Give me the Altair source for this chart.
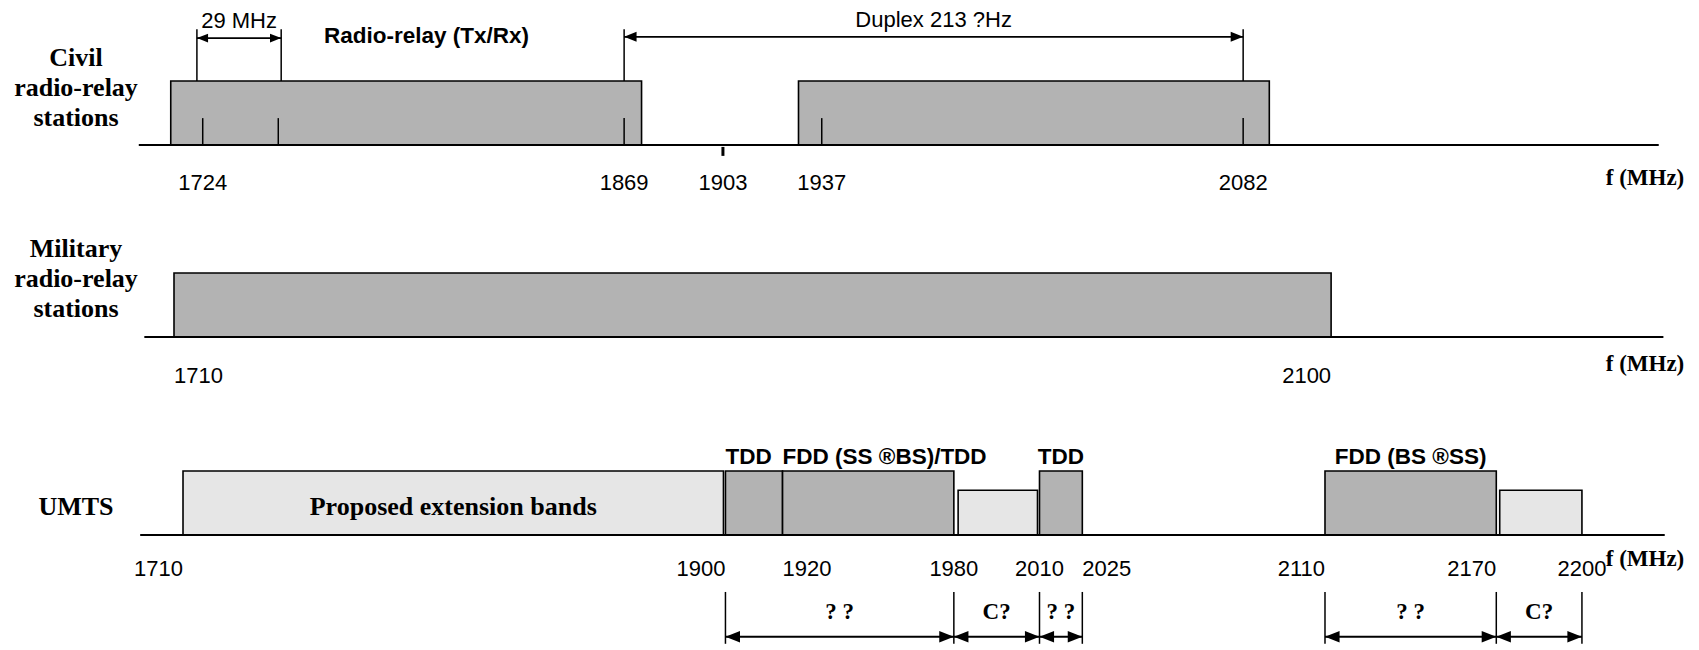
import altair as alt
import pandas as pd

SANS = "Liberation Sans"
SERIF = "Liberation Serif"
W = 1683
UNIT = 64  # pixels per band-height unit

# ---------------- Civil radio-relay stations ----------------
civil_axis = [1702, 2225]
civil_band_lo = [1713, 1929]
civil_band_hi = [1875, 2091]
civil_inner_ticks = [1724, 1750, 1869, 1937, 2082]
civil_tick_labels = [1724, 1869, 1903, 1937, 2082]
civil_marker = [1903]
civil_span = [1722, 1751]          # 29 MHz
civil_span_text = "29 MHz"
civil_duplex = [1869, 2082]
civil_duplex_text = "Duplex 213 ?Hz"
civil_band_text = "Radio-relay (Tx/Rx)"
civil_band_text_f = [1801]
civil_title = ["Civil", "radio-relay", "stations"]
civil_domain = [1657.0, 2236.1]

# ---------------- Military radio-relay stations ----------------
mil_axis = [1700, 2212]
mil_band = [1710, 2100]
mil_title = ["Military", "radio-relay", "stations"]
mil_domain = [1654.05, 2221.3]

# ---------------- UMTS ----------------
umts_axis = [1695, 2229]
umts_lo = [1710, 1900, 1920, 1981.5, 2010, 2110, 2171.2]
umts_hi = [1899.3, 1920, 1980, 2009.3, 2025, 2170, 2200]
umts_type = ["ext", "core", "core", "gap", "core", "core", "gap"]
umts_ext_text = "Proposed extension bands"
umts_names_left = ["TDD", "FDD (SS \u00aeBS)/TDD"]
umts_names_left_f = [1900, 1920]
umts_names_mid = ["TDD", "FDD (BS \u00aeSS)"]
umts_names_mid_lo = [2010, 2110]
umts_names_mid_hi = [2025, 2170]
umts_labels_right = [1710, 1900, 2110, 2170]
umts_labels_left = [1920, 2025]
umts_labels_center = [1980, 2010, 2200]
umts_dim_lo = [1900, 1980, 2010, 2110, 2170]
umts_dim_hi = [1980, 2010, 2025, 2170, 2200]
umts_dim_text = ["? ?", "C?", "? ?", "? ?", "C?"]
umts_title = ["UMTS"]
umts_domain = [1648.7, 2238.2]

axis_unit = "f (MHz)"

LEVEL = {"ext": 1.0, "core": 1.0, "gap": 0.7}
FILL_DOMAIN = ["ext", "core", "gap"]
FILL_RANGE = ["#e6e6e6", "#b3b3b3", "#e6e6e6"]

LEFT_HEAD = "M0,0L1,-0.4L1,0.4Z"
RIGHT_HEAD = "M0,0L-1,-0.4L-1,0.4Z"

NUM_SIZE = 22
SANS_BOLD_SIZE = 22.5
SERIF_TITLE = 26


def panel(h, base, dom, layers):
    xs = alt.Scale(domain=dom)
    ys = alt.Scale(domain=[-(h - base) / UNIT, base / UNIT])
    built = [fn(xs, ys) for fn in layers]
    return alt.layer(*built).properties(width=W, height=h)


def baseline(lo_hi):
    df = pd.DataFrame({"a": [lo_hi[0]], "b": [lo_hi[1]], "y": [0.0]})
    def f(xs, ys):
        return alt.Chart(df).mark_rule(color="black", strokeWidth=2).encode(
            x=alt.X("a:Q", scale=xs, axis=None), x2="b:Q",
            y=alt.Y("y:Q", scale=ys, axis=None))
    return f


def bands(lo, hi, types):
    df = pd.DataFrame({"a": lo, "b": hi, "t": types,
                       "y0": [0.0] * len(lo), "y1": [LEVEL[t] for t in types]})
    def f(xs, ys):
        return alt.Chart(df).mark_rect(stroke="black", strokeWidth=1.6).encode(
            x=alt.X("a:Q", scale=xs, axis=None), x2="b:Q",
            y=alt.Y("y0:Q", scale=ys, axis=None), y2="y1:Q",
            fill=alt.Fill("t:N", scale=alt.Scale(domain=FILL_DOMAIN, range=FILL_RANGE), legend=None))
    return f


def vticks(fs, y0, y1, width=1.5):
    df = pd.DataFrame({"f": fs, "y0": [y0] * len(fs), "y1": [y1] * len(fs)})
    def f(xs, ys):
        return alt.Chart(df).mark_rule(color="black", strokeWidth=width).encode(
            x=alt.X("f:Q", scale=xs, axis=None),
            y=alt.Y("y0:Q", scale=ys, axis=None), y2="y1:Q")
    return f


def arrows(lo, hi, y, head_size):
    df = pd.DataFrame({"a": lo, "b": hi, "y": [y] * len(lo)})
    def f(xs, ys):
        base = alt.Chart(df)
        line = base.mark_rule(color="black", strokeWidth=1.8).encode(
            x=alt.X("a:Q", scale=xs, axis=None), x2="b:Q",
            y=alt.Y("y:Q", scale=ys, axis=None))
        lh = base.mark_point(shape=LEFT_HEAD, filled=True, color="black", opacity=1,
                             size=head_size).encode(
            x=alt.X("a:Q", scale=xs, axis=None), y=alt.Y("y:Q", scale=ys, axis=None))
        rh = base.mark_point(shape=RIGHT_HEAD, filled=True, color="black", opacity=1,
                             size=head_size).encode(
            x=alt.X("b:Q", scale=xs, axis=None), y=alt.Y("y:Q", scale=ys, axis=None))
        return alt.layer(line, lh, rh)
    return f


def texts_at(fs, labels, y, font, size, bold=False, align="center"):
    df = pd.DataFrame({"f": fs, "t": labels, "y": [y] * len(fs)})
    def f(xs, ys):
        return alt.Chart(df).mark_text(font=font, fontSize=size,
                                       fontWeight="bold" if bold else "normal",
                                       align=align, baseline="middle", color="black").encode(
            x=alt.X("f:Q", scale=xs, axis=None),
            y=alt.Y("y:Q", scale=ys, axis=None), text="t:N")
    return f


def texts_mid(lo, hi, labels, y, font, size, bold=False):
    df = pd.DataFrame({"a": lo, "b": hi, "t": labels, "y": [y] * len(lo)})
    def f(xs, ys):
        return alt.Chart(df).transform_calculate(m="(datum.a + datum.b) / 2").mark_text(
            font=font, fontSize=size, fontWeight="bold" if bold else "normal",
            align="center", baseline="middle", color="black").encode(
            x=alt.X("m:Q", scale=xs, axis=None),
            y=alt.Y("y:Q", scale=ys, axis=None), text="t:N")
    return f


def row_title(lines, y):
    def f(xs, ys):
        return alt.Chart(pd.DataFrame({"y": [y]})).mark_text(
            font=SERIF, fontSize=SERIF_TITLE, fontWeight="bold", align="center",
            baseline="middle", lineHeight=30, color="black", text=lines).encode(
            x=alt.value(68), y=alt.Y("y:Q", scale=ys, axis=None))
    return f


def unit_label(y):
    def f(xs, ys):
        return alt.Chart(pd.DataFrame({"y": [y], "t": [axis_unit]})).mark_text(
            font=SERIF, fontSize=23, fontWeight="bold", align="center",
            baseline="middle", color="black").encode(
            x=alt.value(1637), y=alt.Y("y:Q", scale=ys, axis=None), text="t:N")
    return f


civil = panel(200, 137, civil_domain, [
    bands(civil_band_lo, civil_band_hi, ["core", "core"]),
    baseline(civil_axis),
    vticks(civil_inner_ticks, 0.0, 0.42),
    vticks(civil_span, 1.0, 1.81),
    vticks(civil_duplex, 1.0, 1.81),
    vticks(civil_marker, -0.03, -0.17, width=3),
    arrows([civil_span[0]], [civil_span[1]], 1.67, 500),
    arrows([civil_duplex[0]], [civil_duplex[1]], 1.69, 620),
    texts_mid([civil_span[0]], [civil_span[1]], [civil_span_text], 1.93, SANS, NUM_SIZE),
    texts_mid([civil_duplex[0]], [civil_duplex[1]], [civil_duplex_text], 1.95, SANS, NUM_SIZE),
    texts_at(civil_band_text_f, [civil_band_text], 1.70, SANS, SANS_BOLD_SIZE, bold=True),
    texts_at(civil_tick_labels, [str(v) for v in civil_tick_labels], -0.59, SANS, NUM_SIZE),
    unit_label(-0.52),
    row_title(civil_title, 1.36),
])

military = panel(200, 129, mil_domain, [
    bands([mil_band[0]], [mil_band[1]], ["core"]),
    baseline(mil_axis),
    texts_at([mil_band[0]], [str(mil_band[0])], -0.61, SANS, NUM_SIZE, align="left"),
    texts_at([mil_band[1]], [str(mil_band[1])], -0.61, SANS, NUM_SIZE, align="right"),
    unit_label(-0.42),
    row_title(mil_title, 1.375),
])

umts_ticks_all = sorted(set(umts_dim_lo + umts_dim_hi))
umts = panel(232, 127, umts_domain, [
    bands(umts_lo, umts_hi, umts_type),
    baseline(umts_axis),
    texts_mid([umts_lo[0]], [umts_hi[0]], [umts_ext_text], 0.44, SERIF, SERIF_TITLE, bold=True),
    texts_at(umts_names_left_f, umts_names_left, 1.22, SANS, SANS_BOLD_SIZE, bold=True, align="left"),
    texts_mid(umts_names_mid_lo, umts_names_mid_hi, umts_names_mid, 1.22, SANS, SANS_BOLD_SIZE, bold=True),
    texts_at(umts_labels_right, [str(v) for v in umts_labels_right], -0.53, SANS, NUM_SIZE, align="right"),
    texts_at(umts_labels_left, [str(v) for v in umts_labels_left], -0.53, SANS, NUM_SIZE, align="left"),
    texts_at(umts_labels_center, [str(v) for v in umts_labels_center], -0.53, SANS, NUM_SIZE),
    vticks(umts_ticks_all, -0.89, -1.7),
    arrows(umts_dim_lo, umts_dim_hi, -1.59, 850),
    texts_mid(umts_dim_lo, umts_dim_hi, umts_dim_text, -1.2, SERIF, 23, bold=True),
    unit_label(-0.375),
    row_title(umts_title, 0.44),
])

chart = alt.vconcat(civil, military, umts, spacing=0).properties(
    padding=0
).configure(background="white").configure_view(stroke=None, strokeWidth=0)

chart.save("out.html", embed_options={"renderer": "svg", "actions": False})
